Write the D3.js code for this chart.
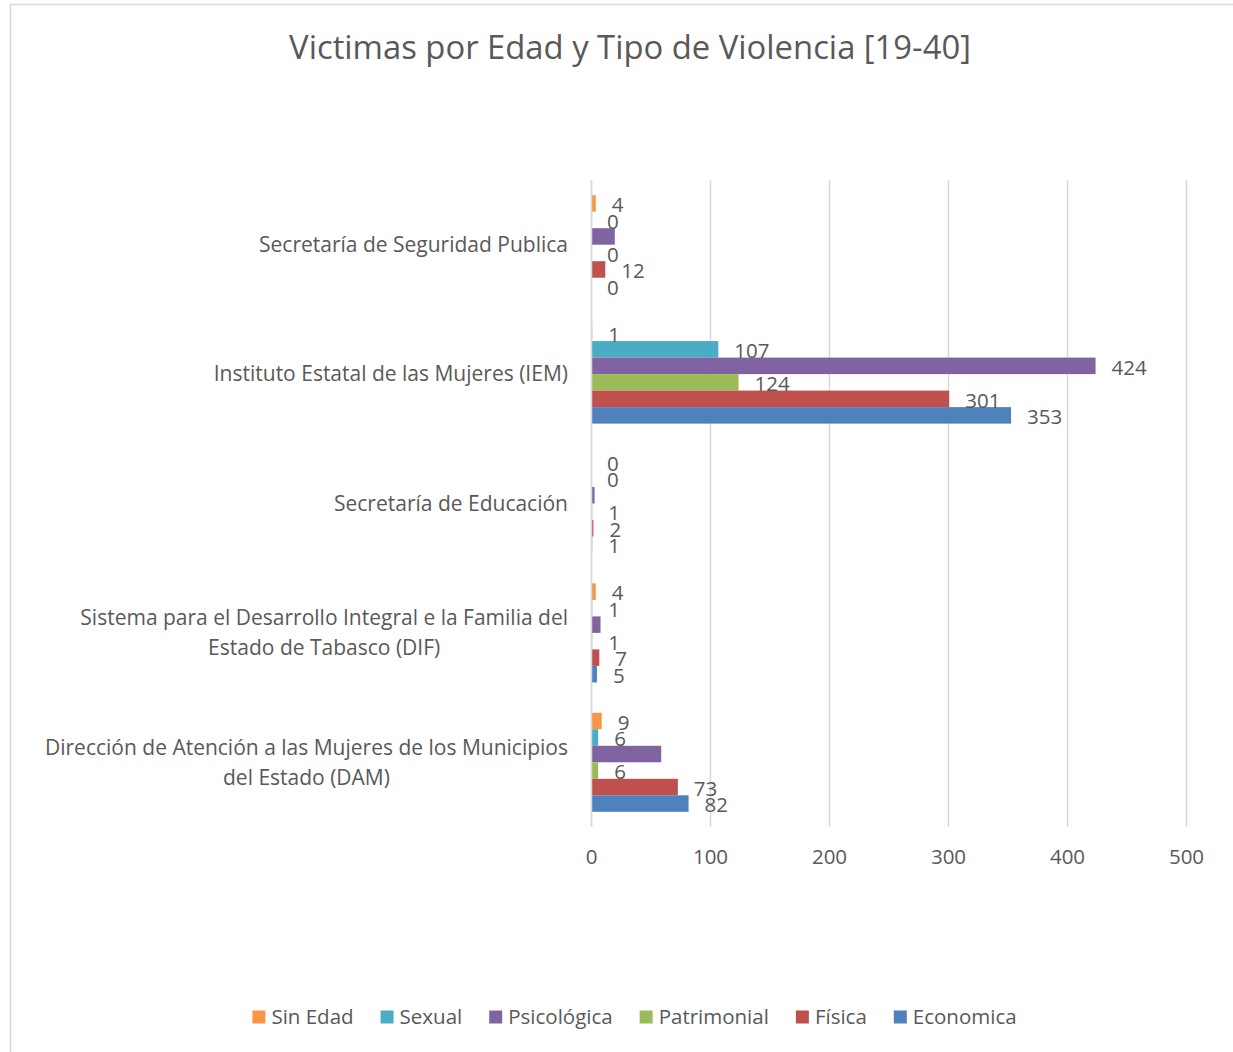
<!DOCTYPE html>
<html>
<head>
<meta charset="utf-8">
<script src="https://cdn.jsdelivr.net/npm/d3@7"></script>
<style>
  html, body { margin: 0; padding: 0; background: #fff; }
  svg { display: block; }
  text { font-family: "Open Sans", Lato, sans-serif; fill: #595959; }
</style>
</head>
<body>
<svg id="chart" width="1233" height="1052"></svg>
<script>
// ---- data ----
const title = "Victimas por Edad y Tipo de Violencia [19-40]";
const categories = [
  ["Secretaría de Seguridad Publica"],
  ["Instituto Estatal de las Mujeres (IEM)"],
  ["Secretaría de Educación"],
  ["Sistema para el Desarrollo Integral e la Familia del", "Estado de Tabasco (DIF)"],
  ["Dirección de Atención a las Mujeres de los Municipios", "del Estado (DAM)"]
];
const seriesNames = ["Sin Edad", "Sexual", "Psicológica", "Patrimonial", "Física", "Economica"];
const seriesColors = ["#F79646", "#4BACC6", "#8064A2", "#9BBB59", "#C0504D", "#4F81BD"];
const sinEdad     = [4, 1, 0, 4, 9];
const sexual      = [0, 107, 0, 1, 6];
const psicologica = [20, 424, 3, 8, 59];
const patrimonial = [0, 124, 1, 1, 6];
const fisica      = [12, 301, 2, 7, 73];
const economica   = [0, 353, 1, 5, 82];
// data labels that are shown for Psicológica (others hidden in the original)
const psicologicaLabelShown = [false, true, false, false, false];
const xTicks = [0, 100, 200, 300, 400, 500];

const seriesValues = [sinEdad, sexual, psicologica, patrimonial, fisica, economica];

// ---- layout ----
const svg = d3.select("#chart");
const W = 1233, H = 1052;
const plot = { left: 591, right: 1186, top: 180, bottom: 827 };

// chart border (top + left visible)
svg.append("path")
  .attr("d", `M10.5,${H + 5} L10.5,4.5 L${W + 5},4.5`)
  .attr("fill", "none").attr("stroke", "#d9d9d9").attr("stroke-width", 1.5);

svg.append("text")
  .attr("x", 630).attr("y", 48).attr("dy", "0.35em")
  .attr("text-anchor", "middle")
  .style("font-size", "32.8px")
  .text(title);

const x = d3.scaleLinear().domain([0, 500]).range([plot.left, plot.right]);
const catIdx = categories.map((d, i) => i);
const y0 = d3.scaleBand().domain(catIdx).range([plot.top, plot.bottom]).padding(0);
const y1 = d3.scaleBand().domain(seriesNames).range([0, y0.bandwidth()]).paddingInner(0).paddingOuter(0.92);

// gridlines
svg.append("g").selectAll("line").data(xTicks).join("line")
  .attr("x1", d => x(d) + 0.5).attr("x2", d => x(d) + 0.5)
  .attr("y1", plot.top).attr("y2", plot.bottom)
  .attr("stroke", "#d9d9d9").attr("stroke-width", 1.5);

// x axis tick labels
const xAxis = d3.axisBottom(x).tickValues(xTicks).tickSize(0).tickPadding(0);
const gx = svg.append("g").attr("transform", `translate(0,${plot.bottom + 30})`).call(xAxis);
gx.select(".domain").remove();
gx.selectAll("text").attr("dy", "0.35em").attr("y", 0)
  .style("font-size", "20.5px").style("font-family", null).attr("fill", "#595959");

// bars
const rows = [];
categories.forEach((c, ci) => {
  seriesNames.forEach((s, si) => {
    rows.push({ ci, si, s, v: seriesValues[si][ci] });
  });
});
svg.append("g").selectAll("rect").data(rows).join("rect")
  .attr("x", x(0))
  .attr("y", d => y0(d.ci) + y1(d.s))
  .attr("width", d => x(d.v) - x(0))
  .attr("height", y1.bandwidth())
  .attr("fill", d => seriesColors[d.si]);

// zero axis line
svg.append("line")
  .attr("x1", x(0) + 0.5).attr("x2", x(0) + 0.5)
  .attr("y1", plot.top).attr("y2", plot.bottom)
  .attr("stroke", "#d9d9d9").attr("stroke-width", 1.5);

// data labels
svg.append("g").selectAll("text")
  .data(rows.filter(d => !(d.si === 2 && !psicologicaLabelShown[d.ci])))
  .join("text")
  .attr("x", d => x(d.v) + 16)
  .attr("y", d => y0(d.ci) + y1(d.s) + y1.bandwidth() / 2 + 1.5)
  .attr("dy", "0.35em")
  .style("font-size", "20.5px")
  .attr("fill", "#404040")
  .text(d => d.v);

// category labels (multi-line, centered block, right-aligned to the axis)
const catG = svg.append("g");
categories.forEach((lines, ci) => {
  const cy = y0(ci) + y0.bandwidth() / 2;
  const lh = 30;
  const t = catG.append("text").style("font-size", "21px").attr("text-anchor", "middle");
  lines.forEach((ln, li) => {
    t.append("tspan").attr("x", 0)
      .attr("y", cy + (li - (lines.length - 1) / 2) * lh)
      .attr("dy", "0.35em").text(ln);
  });
  let maxW = 0;
  t.selectAll("tspan").each(function () { maxW = Math.max(maxW, this.getComputedTextLength()); });
  t.selectAll("tspan").attr("x", 568 - maxW / 2);
});

// legend
const leg = svg.append("g");
let lx = 0;
seriesNames.forEach((s, i) => {
  const g = leg.append("g").attr("transform", `translate(${lx},0)`);
  g.append("rect").attr("x", 0).attr("y", -6.5).attr("width", 13).attr("height", 13).attr("fill", seriesColors[i]);
  const t = g.append("text").attr("x", 19).attr("y", 0).attr("dy", "0.35em").style("font-size", "20.5px").text(s);
  lx += 19 + t.node().getComputedTextLength() + 27;
});
const totalW = lx - 27;
leg.attr("transform", `translate(${634.5 - totalW / 2},1017)`);
</script>
</body>
</html>
